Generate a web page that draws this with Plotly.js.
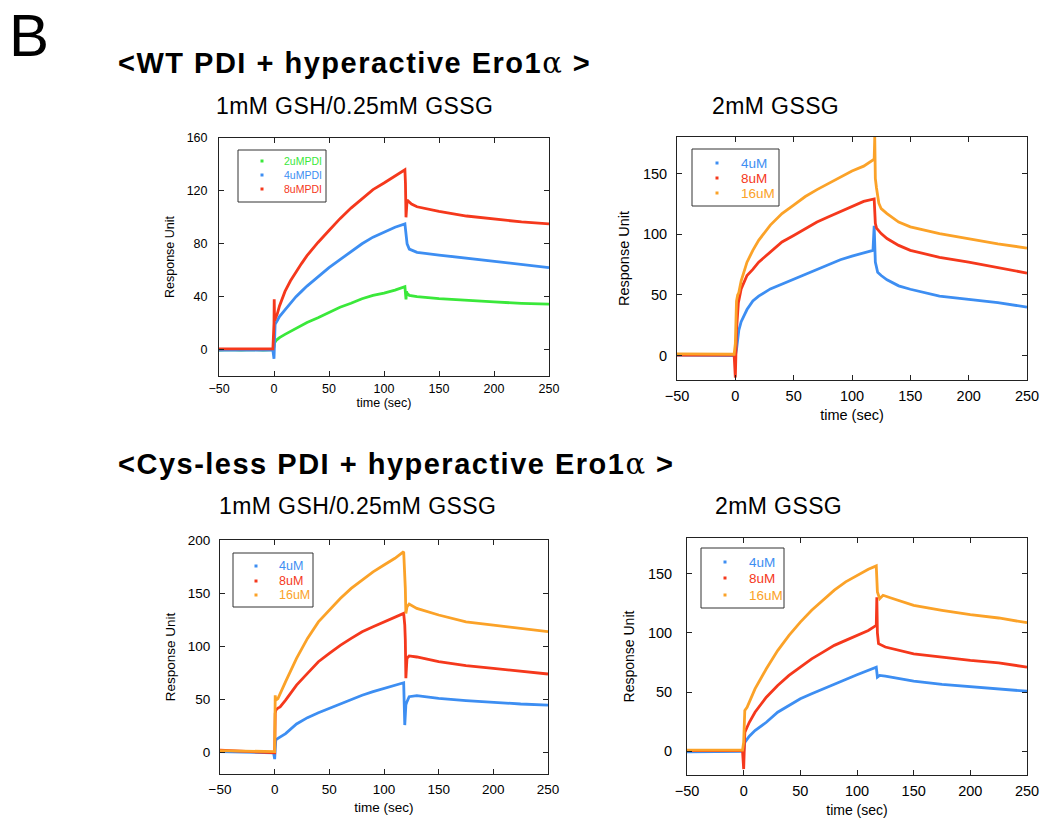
<!DOCTYPE html>
<html>
<head>
<meta charset="utf-8">
<script src="https://cdn.plot.ly/plotly-3.0.1.min.js"></script>
<style>html,body{margin:0;padding:0;background:#fff;}#chart{width:1041px;height:822px;}</style>
</head>
<body>
<div id="chart"></div>
<script>
// ---------- DATA ----------
const xTickLabels = ['-50','0','50','100','150','200','250'];
const groupTitles = ['<WT PDI + hyperactive Ero1α >', '<Cys-less PDI + hyperactive Ero1α >'];
const conditionTitles = ['1mM GSH/0.25mM GSSG', '2mM GSSG'];
const xTitle = 'time (sec)';
const yTitle = 'Response Unit';

// Panel 1: WT PDI, 1mM GSH/0.25mM GSSG
const p1Names = ['2uMPDI', '4uMPDI', '8uMPDI'];
const p1_2uM_t = [-50,-40,-30,-20,-10,-1,0,0.5,2,5,10,20,30,40,50,60,70,80,90,100,110,119,120,120.5,121,123,130,150,175,200,225,250];
const p1_2uM_y = [-0.5,0,-0.5,0,-0.5,0,2,5,7,9,11.5,16,20.5,24,28,32,35,38.4,41,42.7,45,47.5,38,44,42.5,41,40,38.5,37,36,35,34.3];
const p1_4uM_t = [-50,-30,-10,-1,0,0.3,1,3,5,10,15,20,25,30,40,50,60,70,80,90,100,110,119,120,121,123,130,150,175,200,225,250];
const p1_4uM_y = [-0.5,-0.5,-0.5,-0.5,-7,17,19,22,25,30,35,40,44,48,55,62,68,74,80,85,89,92.5,95,88,80,76,73.5,71.5,69,66.5,64,62];
const p1_8uM_t = [-50,-30,-10,-1,0,0.2,0.5,1,3,5,10,15,20,25,30,40,50,60,70,80,90,100,110,119,119.5,120,121,125,130,140,150,175,200,225,250];
const p1_8uM_y = [0.5,0.5,0.5,0.5,20,38,22,23,27,33,44,52,59,65,71,81,90,99,107,114,121,126,131,136,126,100,113,110,108,106,104.5,101,98.5,96.5,95];

// Panel 2: WT PDI, 2mM GSSG
const p2Names = ['4uM', '8uM', '16uM'];
const p2_4uM_t = [-50,-30,-10,-1,0,1,2,3,5,10,15,20,30,40,50,60,70,80,90,100,110,118,119,119.5,120,122,125,130,140,150,175,200,225,250];
const p2_4uM_y = [0.5,0.5,0,0,0,5,16,21,28,38,45,49,55,59,63,67,71.4,75.5,79,82,84.7,86.7,107,93,77,68.6,66,62.5,57.5,54.7,49,46.4,43.6,40];
const p2_8uM_t = [-50,-30,-10,-1,0,0.3,1,2.6,5,10,15,20,30,40,50,60,70,80,90,100,110,119,120,121,125,130,140,150,175,200,225,250];
const p2_8uM_y = [0.5,0.5,0.5,0.5,-18,10,21,43.6,55,66,71,77,85,93.6,99,104.7,110,114.4,118.6,122.8,127,129,109,105,100.5,96.4,90.8,86.7,81,77,72.8,68];
const p2_16uM_t = [-50,-30,-10,-1,0,1,2,3,5,10,15,20,30,40,50,60,70,80,90,100,110,119,119.5,120,121,123,125,130,140,150,175,200,225,250];
const p2_16uM_y = [1.5,1.5,1.2,1.2,10,45,50,52,61.7,77,86.7,95,107.5,117,124,131,136.7,142,147,152,156,161.7,180,146,138,125.5,121,117,110,106,100.5,96.4,92,88.6];

// Panel 3: Cys-less PDI, 1mM GSH/0.25mM GSSG
const p3Names = ['4uM', '8uM', '16uM'];
const p3_4uM_t = [-50,-30,-10,-1,0,0.5,1,3,5,10,20,30,40,50,60,70,80,90,100,110,118,119,119.5,120,121,123,130,150,175,200,225,250];
const p3_4uM_y = [1,0.5,0,0,-6,8,12,13.5,15,18,27,33,37.6,41.7,46.4,50.5,54,57.4,60.5,63.6,65.8,26,38.6,45,48,52.7,53.6,51,49,47.3,45.8,44.8];
const p3_8uM_t = [-50,-30,-10,-1,0,0.5,1,3,5,10,20,30,40,50,60,70,80,90,100,110,118,119,119.5,120,121,123,130,150,175,200,225,250];
const p3_8uM_y = [2.5,1.5,1,0.5,0,37,40,42,43,49.5,63.6,74.6,85.6,93.4,101,107.5,113.8,118.5,123,127,131,120,106,70,88.7,91,90,85.6,81.8,79.3,76.8,74];
const p3_16uM_t = [-50,-30,-10,-1,0,0.5,1,3,5,10,20,30,40,50,60,70,80,90,100,110,118,119,119.5,120,121,123,130,150,175,200,225,250];
const p3_16uM_y = [2,1.5,1.2,1,1,54,49.5,51,55.8,66.8,88.7,107.5,123,134,145,154.5,162.4,170,176.5,182.8,189,173,154.5,131,137,139.8,135.7,129.5,123,120,117,113.8];

// Panel 4: Cys-less PDI, 2mM GSSG
const p4Names = ['4uM', '8uM', '16uM'];
const p4_4uM_t = [-50,-30,-10,-1,0,1,3,5,10,20,30,40,50,60,70,80,90,100,110,117,118,120,125,150,175,200,225,250];
const p4_4uM_y = [-0.5,-0.5,-0.5,-0.5,0,7.6,10.4,12.7,17.5,24.5,33,38.6,44.3,48.5,52.7,57,60.6,64.6,68.2,71,62.6,64,63.4,59.2,56.4,54.7,52.7,50.7];
const p4_8uM_t = [-50,-30,-10,-1,0,0.3,1,3,5,10,20,30,40,50,60,70,80,90,100,110,117,117.5,118,119,125,150,175,200,225,250];
const p4_8uM_y = [0.5,0.5,0.5,0.5,-15,10,16,20.3,24.5,33,45.7,55.5,64,71,78,83.7,89.4,93.6,97.8,102,106.3,130,100,90.8,88,82.3,79.5,76.7,74.7,71];
const p4_16uM_t = [-50,-30,-10,-1,0,1,3,5,10,20,30,40,50,60,70,80,90,100,110,117,117.5,118,120,123,130,150,175,200,225,250];
const p4_16uM_y = [1,1,1,1,7.6,34.4,37.2,41.4,52.7,69.6,85,97.8,109,119,127.4,136,143,148.6,153.6,156.5,148.6,134.5,128.8,131.7,129.4,123.2,119,115.3,112.5,108.5];

// ---------- STYLE ----------
const GREEN = '#3ae83a', BLUE = '#3d8ef2', RED = '#f5381c', ORANGE = '#fba228';
const FONT = 'Liberation Sans, Arial, Helvetica, sans-serif';
const W = 1041, H = 822;
const px = x => x / W;
const py = y => 1 - y / H;

const panels = [
  {series: [[p1_2uM_t,p1_2uM_y],[p1_4uM_t,p1_4uM_y],[p1_8uM_t,p1_8uM_y]], names: p1Names, colors: [GREEN,BLUE,RED],
   box: [219,138,549,376], yr: [-20,160], ydt: 40, tf: 12.5, af: 12.5, ylso: 8, xlso: 1, yts: 9, xts: 0,
   leg: {box:[238,150,326,202], mx:262, tx:282, rows:[161,175,189], fs:10.5}},
  {series: [[p2_4uM_t,p2_4uM_y],[p2_8uM_t,p2_8uM_y],[p2_16uM_t,p2_16uM_y]], names: p2Names, colors: [BLUE,RED,ORANGE],
   box: [677,137,1027,380], yr: [-20,180], ydt: 50, tf: 14.5, af: 14.5, ylso: 6, xlso: 3, yts: 9, xts: 6,
   leg: {box:[692,149,779,206], mx:717, tx:739, rows:[163,178,193], fs:13.5}},
  {series: [[p3_4uM_t,p3_4uM_y],[p3_8uM_t,p3_8uM_y],[p3_16uM_t,p3_16uM_y]], names: p3Names, colors: [BLUE,RED,ORANGE],
   box: [220,540,548,774], yr: [-20,200], ydt: 50, tf: 13.5, af: 13.5, ylso: 6, xlso: 3, yts: 9, xts: 6,
   leg: {box:[233,553,313,607], mx:256, tx:277, rows:[566,581,595], fs:12.5}},
  {series: [[p4_4uM_t,p4_4uM_y],[p4_8uM_t,p4_8uM_y],[p4_16uM_t,p4_16uM_y]], names: p4Names, colors: [BLUE,RED,ORANGE],
   box: [687,538,1027,775], yr: [-20,180], ydt: 50, tf: 14.5, af: 14, ylso: 11, xlso: 3, yts: 9, xts: 6,
   leg: {box:[701,548,784,608], mx:725, tx:747, rows:[562,578,595], fs:13.5}}
];

const traces = [];
const layout = {
  width: W, height: H, margin: {l:0, r:0, t:0, b:0},
  paper_bgcolor: '#fff', plot_bgcolor: '#fff', showlegend: false,
  font: {family: FONT, color: '#000'},
  annotations: [], shapes: []
};

panels.forEach((p, i) => {
  const n = i === 0 ? '' : String(i + 1);
  const xa = 'x' + n, ya = 'y' + n;
  p.series.forEach((s, k) => {
    traces.push({
      type: 'scatter', mode: 'lines', x: s[0], y: s[1], name: p.names[k],
      xaxis: xa, yaxis: ya, line: {color: p.colors[k], width: 2.8}, hoverinfo: 'x+y+name'
    });
  });
  const [l, t, r, b] = p.box;
  const common = {
    showgrid: false, zeroline: false, showline: true, linecolor: '#222', linewidth: 1,
    mirror: 'ticks', ticks: 'inside', ticklen: 5, tickcolor: '#222', tickmode: 'linear'
  };
  layout['xaxis' + n] = Object.assign({}, common, {
    domain: [px(l), px(r)], anchor: ya, range: [-50, 250], tick0: -50, dtick: 50,
    tickfont: {size: p.tf, family: FONT, color: '#000'},
    ticklabelstandoff: p.xlso,
    title: {text: xTitle, font: {size: p.af, family: FONT, color: '#000'}, standoff: p.xts}
  });
  layout['yaxis' + n] = Object.assign({}, common, {
    domain: [py(b), py(t)], anchor: xa, range: p.yr, tick0: 0, dtick: p.ydt,
    tickfont: {size: p.tf, family: FONT, color: '#000'}, ticklabelstandoff: p.ylso,
    title: {text: yTitle, font: {size: p.af, family: FONT, color: '#000'}, standoff: p.yts}
  });
  // legend box
  const g = p.leg;
  layout.shapes.push({type: 'rect', xref: 'paper', yref: 'paper',
    x0: px(g.box[0]), x1: px(g.box[2]), y0: py(g.box[3]), y1: py(g.box[1]),
    line: {color: '#333', width: 1}, fillcolor: '#fff'});
  p.names.forEach((nm, k) => {
    layout.shapes.push({type: 'rect', xref: 'paper', yref: 'paper',
      x0: px(g.mx - 1.5), x1: px(g.mx + 1.5), y0: py(g.rows[k] + 1.5), y1: py(g.rows[k] - 1.5),
      line: {width: 0}, fillcolor: p.colors[k]});
    layout.annotations.push({xref: 'paper', yref: 'paper', x: px(g.tx), y: py(g.rows[k]),
      xanchor: 'left', yanchor: 'middle', showarrow: false, text: nm,
      font: {size: g.fs, family: FONT, color: p.colors[k]}});
  });
});

// headings
const heading = s => '<span style="letter-spacing:1.5px">' +
  s.replace('α', '<span style="font-weight:normal;font-family:DejaVu Serif">α</span>') + '</span>';
const sub = s => '<span style="letter-spacing:0.4px">' + s + '</span>';
layout.annotations.push(
  {xref:'paper', yref:'paper', x: px(7), y: py(35.5), xanchor:'left', yanchor:'middle', showarrow:false,
   text:'B', font:{size:60, family:FONT, color:'#000'}},
  {xref:'paper', yref:'paper', x: px(116), y: py(63), xanchor:'left', yanchor:'middle', showarrow:false,
   text:'<b>' + heading(groupTitles[0]) + '</b>', font:{size:29, family:FONT, color:'#000'}},
  {xref:'paper', yref:'paper', x: px(116), y: py(464), xanchor:'left', yanchor:'middle', showarrow:false,
   text:'<b>' + heading(groupTitles[1]) + '</b>', font:{size:29, family:FONT, color:'#000'}},
  {xref:'paper', yref:'paper', x: px(354), y: py(106), xanchor:'center', yanchor:'middle', showarrow:false,
   text: sub(conditionTitles[0]), font:{size:23, family:FONT, color:'#000'}},
  {xref:'paper', yref:'paper', x: px(775), y: py(106), xanchor:'center', yanchor:'middle', showarrow:false,
   text: sub(conditionTitles[1]), font:{size:23, family:FONT, color:'#000'}},
  {xref:'paper', yref:'paper', x: px(357), y: py(506), xanchor:'center', yanchor:'middle', showarrow:false,
   text: sub(conditionTitles[0]), font:{size:23, family:FONT, color:'#000'}},
  {xref:'paper', yref:'paper', x: px(778), y: py(506), xanchor:'center', yanchor:'middle', showarrow:false,
   text: sub(conditionTitles[1]), font:{size:23, family:FONT, color:'#000'}}
);

Plotly.newPlot('chart', traces, layout, {staticPlot: true, displayModeBar: false});
</script>
</body>
</html>
